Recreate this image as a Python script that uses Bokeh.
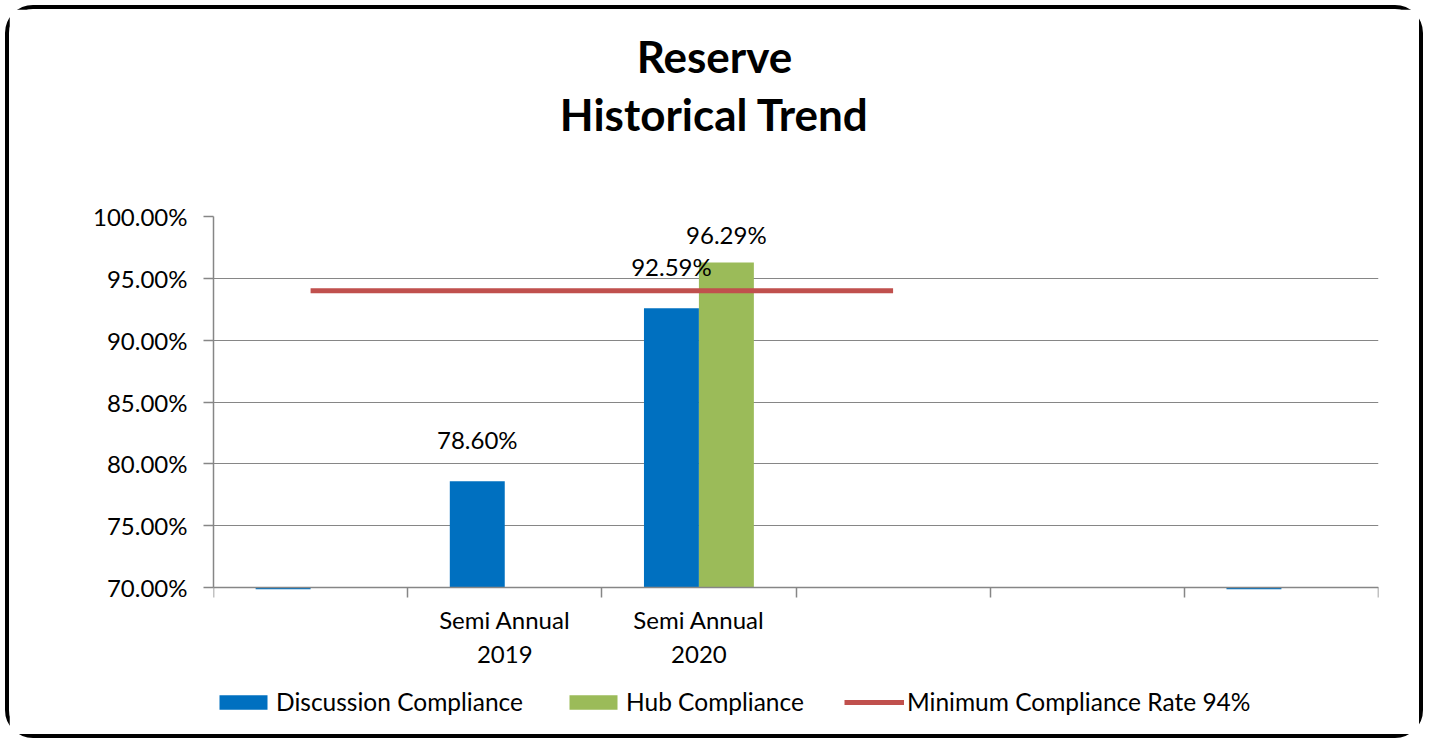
from bokeh.plotting import figure
from bokeh.models import (Range1d, FixedTicker, PrintfTickFormatter, Legend, LegendItem, Title)
from bokeh.core.properties import value
from bokeh.embed import file_html
from bokeh.resources import INLINE
import numpy as np

categories = ["", "Semi Annual\n2019", "Semi Annual\n2020", "", "", ""]
discussion = [0.0, 78.60, 92.59, np.nan, np.nan, 0.0]
hub = [np.nan, np.nan, 96.29, np.nan, np.nan, np.nan]
minimum = [94.0, 94.0, 94.0, 94.0, np.nan, np.nan]
y_ticks = [70, 75, 80, 85, 90, 95, 100]
Y_MIN, Y_MAX = 70, 100

FONT = "Lato"
BLUE = "#0070C0"
GREEN = "#9BBB59"
RED = "#C0504D"
GRID = "#868686"

n = len(categories)
centers = [i + 0.5 for i in range(n)]
bw = 0.283

# layout geometry (page pixels). The frame reaches below the category axis so that
# the category labels and the legend can live inside it.
ORIGIN = 9                                   # canvas origin on the page
BORDER = 4
PX_X0, PX_X6 = 213, 1378                     # axis x=0, axis x=n
PX_TOP, PX_AXIS, PX_BOTTOM = 216, 587, 726   # frame top (=100%), axis (=70%), frame bottom
W, H = 1410, 725
W_EFF, H_EFF = W + 2 * BORDER, H + 2 * BORDER
y_start = Y_MIN - (PX_BOTTOM - PX_AXIS) * (Y_MAX - Y_MIN) / (PX_AXIS - PX_TOP)

p = figure(width=W, height=H, output_backend="svg", toolbar_location=None,
           x_range=Range1d(0, n), y_range=Range1d(y_start, Y_MAX),
           min_border_left=PX_X0 - ORIGIN, min_border_right=ORIGIN + W_EFF - PX_X6,
           min_border_top=PX_TOP - ORIGIN, min_border_bottom=ORIGIN + H_EFF - PX_BOTTOM)
p.styles = {"border": "4px solid black", "border-radius": "28px", "box-sizing": "content-box",
            "margin-left": "5px", "margin-top": "5px"}
p.outline_line_color = None
p.background_fill_color = "white"
p.border_fill_color = "white"

frame_center = (PX_X0 + PX_X6) / 2
shift = int(round(2 * (frame_center - 714)))
t_hist = Title(text="Historical Trend", align="center", vertical_align="top",
               text_font=FONT, text_font_size="44px", text_font_style="bold",
               text_color="black", standoff=0,
               padding=dict(left=0, right=shift, top=0, bottom=75))
t_res = Title(text="Reserve", align="center", vertical_align="top",
              text_font=FONT, text_font_size="44px", text_font_style="bold",
              text_color="black", standoff=0,
              padding=dict(left=0, right=shift, top=0, bottom=4))
p.add_layout(t_hist, "above")
p.add_layout(t_res, "above")

disc_lbl = [("%.2f%%" % v) if (not np.isnan(v) and v > Y_MIN) else "" for v in discussion]
hub_lbl = [("%.2f%%" % v) if (not np.isnan(v) and v > Y_MIN) else "" for v in hub]
# values below the axis minimum are cut at the axis, as in the source chart
disc_top = np.clip(np.array(discussion), Y_MIN - 0.15, None)
hub_top = np.clip(np.array(hub), Y_MIN - 0.15, None)

disc_r = p.vbar(x=[c - bw / 2 for c in centers], width=bw, bottom=Y_MIN, top=disc_top,
                fill_color=BLUE, line_color=None)
hub_r = p.vbar(x=[c + bw / 2 for c in centers], width=bw, bottom=Y_MIN, top=hub_top,
               fill_color=GREEN, line_color=None)
min_r = p.line(x=centers, y=minimum, line_color=RED, line_width=5)

p.text(x=[c - bw / 2 for c in centers], y=discussion, text=disc_lbl,
       text_align="center", text_baseline="middle", y_offset=-42,
       text_font=value(FONT), text_font_size="24px", text_color="black")
p.text(x=[c + bw / 2 for c in centers], y=hub, text=hub_lbl,
       text_align="center", text_baseline="middle", y_offset=-28,
       text_font=value(FONT), text_font_size="24px", text_color="black")

# grid & axes
p.xgrid.visible = False
p.ygrid.grid_line_color = GRID
p.ygrid.grid_line_width = 1
p.ygrid.ticker = FixedTicker(ticks=y_ticks)

p.yaxis.ticker = FixedTicker(ticks=y_ticks)
p.yaxis.bounds = (Y_MIN, Y_MAX)
p.yaxis.formatter = PrintfTickFormatter(format="%.2f%%")
p.yaxis.axis_line_color = GRID
p.yaxis.axis_line_width = 1.5
p.yaxis.major_tick_line_color = GRID
p.yaxis.major_tick_line_width = 1.5
p.yaxis.major_tick_out = 10
p.yaxis.major_tick_in = 0
p.yaxis.minor_tick_line_color = None
p.yaxis.major_label_standoff = 16
p.yaxis.major_label_text_font = FONT
p.yaxis.major_label_text_font_size = "24px"
p.yaxis.major_label_text_color = "black"

p.xaxis.fixed_location = Y_MIN
p.xaxis.bounds = (0, n)
p.xaxis.ticker = FixedTicker(ticks=centers, minor_ticks=list(range(n + 1)))
p.xaxis.major_label_overrides = {c: lbl for c, lbl in zip(centers, categories)}
p.xaxis.axis_line_color = GRID
p.xaxis.axis_line_width = 1.5
p.xaxis.major_tick_line_color = None
p.xaxis.minor_tick_line_color = GRID
p.xaxis.minor_tick_line_width = 1.5
p.xaxis.minor_tick_out = 10
p.xaxis.minor_tick_in = 0
p.xaxis.major_label_standoff = 7
p.xaxis.major_label_text_font = FONT
p.xaxis.major_label_text_font_size = "24px"
p.xaxis.major_label_text_color = "black"

legend = Legend(items=[
    LegendItem(label="Discussion Compliance", renderers=[disc_r]),
    LegendItem(label="Hub Compliance", renderers=[hub_r]),
    LegendItem(label="Minimum Compliance Rate 94%", renderers=[min_r]),
], orientation="horizontal", location=(0, 10), glyph_width=60, glyph_height=18,
    label_standoff=3, spacing=40, padding=0, margin=0, border_line_color=None,
    background_fill_alpha=0, label_text_font=FONT, label_text_font_size="24.5px",
    label_text_color="black")
p.add_layout(legend)

open("out.html", "w").write(file_html(p, INLINE))
